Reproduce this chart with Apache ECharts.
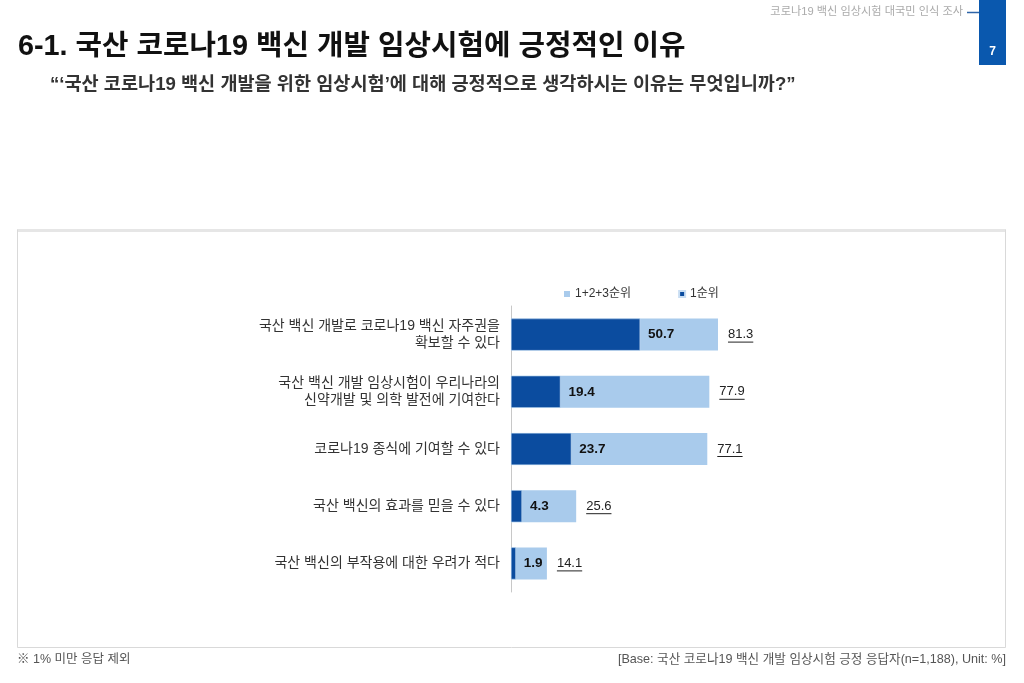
<!DOCTYPE html>
<html><head><meta charset="utf-8">
<script src="https://cdn.jsdelivr.net/npm/echarts@6/dist/echarts.min.js"></script>
<style>html,body{margin:0;padding:0;background:#fff}#c{width:1024px;height:683px}</style>
</head><body><div id="c"></div>
<script>
var categories = [
  '국산 백신 개발로 코로나19 백신 자주권을\n확보할 수 있다',
  '국산 백신 개발 임상시험이 우리나라의\n신약개발 및 의학 발전에 기여한다',
  '코로나19 종식에 기여할 수 있다',
  '국산 백신의 효과를 믿을 수 있다',
  '국산 백신의 부작용에 대한 우려가 적다'
];
var rankTotal = [81.3, 77.9, 77.1, 25.6, 14.1];
var rankFirst = [50.7, 19.4, 23.7, 4.3, 1.9];
var seriesNames = ['1+2+3순위', '1순위'];

var FONT = "'Liberation Sans','Noto Sans CJK KR',sans-serif";
var cv = document.createElement('canvas').getContext('2d');
cv.font = '13px ' + FONT;
function tw(s){ return cv.measureText(s).width; }

var chart = echarts.init(document.getElementById('c'), null, {renderer:'canvas'});
var option = {
  backgroundColor:'#fff',
  animation:false,
  textStyle:{fontFamily:FONT},
  title:[
    {text:'6-1. 국산 코로나19 백신 개발 임상시험에 긍정적인 이유', left:13, top:28,
     textStyle:{fontSize:28.8, fontWeight:'bold', color:'#111', fontFamily:FONT}},
    {text:'“‘국산 코로나19 백신 개발을 위한 임상시험’에 대해 긍정적으로 생각하시는 이유는 무엇입니까?”', left:45, top:71,
     textStyle:{fontSize:18.6, fontWeight:'bold', color:'#333', fontFamily:FONT}},
    {text:'※ 1% 미만 응답 제외', left:12, top:648,
     textStyle:{fontSize:12.5, fontWeight:'normal', color:'#555', fontFamily:FONT}},
    {text:'[Base: 국산 코로나19 백신 개발 임상시험 긍정 응답자(n=1,188), Unit: %]', right:13, top:648,
     textStyle:{fontSize:12.6, fontWeight:'normal', color:'#555', fontFamily:FONT}}
  ],
  graphic:[
    {type:'text', right:61, top:6, style:{text:'코로나19 백신 임상시험 대국민 인식 조사', font:'11.2px '+FONT, fill:'#aaa'}},
    {type:'line', shape:{x1:967, y1:12.5, x2:998, y2:12.5}, style:{stroke:'#2f65a8', lineWidth:1.5}},
    {type:'rect', shape:{x:979, y:0, width:27, height:65}, style:{fill:'#0a58ae'}},
    {type:'text', x:992.5, y:52, style:{text:'7', font:'bold 12px '+FONT, fill:'#fff', align:'center', verticalAlign:'middle'}, z:10},
    {type:'rect', shape:{x:17.5, y:229.5, width:988, height:418}, style:{fill:'none', stroke:'#d9d9d9', lineWidth:1}},
    {type:'line', shape:{x1:18, y1:230.5, x2:1005, y2:230.5}, style:{stroke:'#e6e6e6', lineWidth:3}}
  ],
  legend:{
    data:seriesNames, left:559, top:283, itemWidth:6, itemHeight:6, itemGap:47,
    icon:'rect', textStyle:{fontSize:12, color:'#333', fontFamily:FONT}
  },
  grid:{left:511, top:306, width:254.6, height:286, containLabel:false},
  xAxis:{type:'value', min:0, max:100, show:false},
  yAxis:{
    type:'category', data:categories, inverse:true,
    axisLine:{show:true, lineStyle:{color:'#c8c8c8', width:1}},
    axisTick:{show:false},
    axisLabel:{fontSize:14, color:'#333', lineHeight:17.5, margin:11, align:'right', fontFamily:FONT}
  },
  series:[
    {name:seriesNames[0], type:'bar', data:rankTotal, barWidth:'56%', barGap:'-100%',
     itemStyle:{color:'#a9cbec'}, z:1},
    {name:seriesNames[1], type:'bar', data:rankFirst, barWidth:'56%', barGap:'-100%',
     itemStyle:{color:'#0b4c9f', borderColor:'#c9def3', borderWidth:0.5}, z:2,
     label:{show:true, position:'right', distance:8, fontSize:13.5, fontWeight:'bold', color:'#111',
            fontFamily:FONT, formatter:function(p){return p.value.toFixed(1);}}},
    {type:'custom', name:'total', z:3, silent:true,
     data:rankTotal.map(function(v,i){return [v,i];}),
     encode:{x:0, y:1},
     renderItem:function(params, api){
       var v = api.value(0), idx = api.value(1);
       var p = api.coord([v, idx]);
       var x = p[0] + 10, y = p[1];
       var s = v.toFixed(1), w = tw(s);
       return {type:'group', children:[
         {type:'text', x:x, y:y, style:{text:s, font:'13px '+FONT, fill:'#222', align:'left', verticalAlign:'middle'}},
         {type:'line', shape:{x1:x, y1:y+7.5, x2:x+w, y2:y+7.5}, style:{stroke:'#222', lineWidth:1}}
       ]};
     }}
  ]
};
chart.setOption(option);
</script></body></html>
